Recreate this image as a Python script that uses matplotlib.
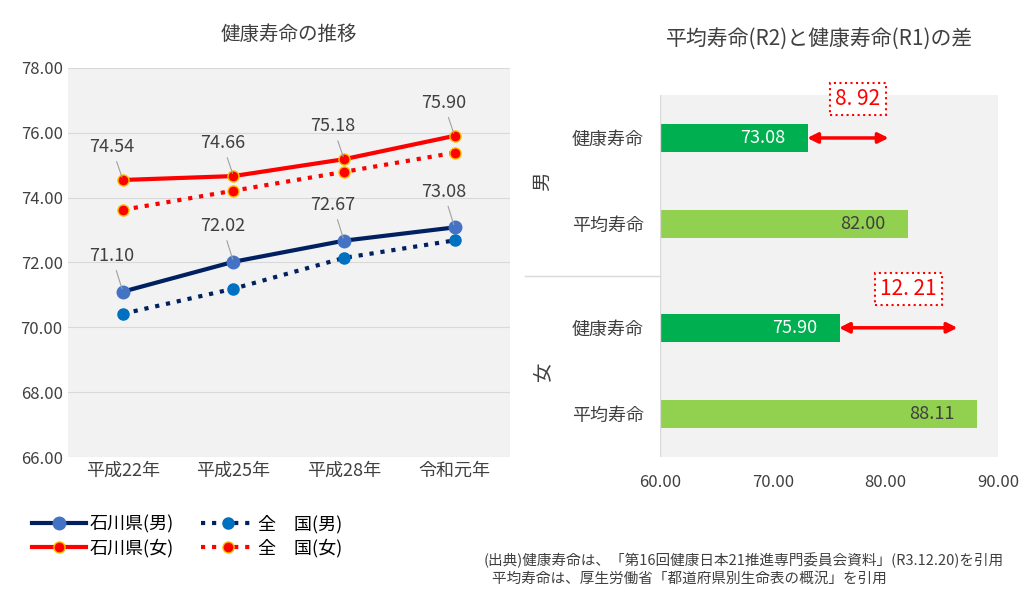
import matplotlib.pyplot as plt
import numpy as np

plt.rcParams['font.family'] = ['Noto Sans CJK JP', 'DejaVu Sans']

years = ["平成22年", "平成25年", "平成28年", "令和元年"]
ishikawa_m = [71.10, 72.02, 72.67, 73.08]
ishikawa_f = [74.54, 74.66, 75.18, 75.90]
zenkoku_m = [70.42, 71.19, 72.14, 72.68]
zenkoku_f = [73.62, 74.21, 74.79, 75.38]

bar_labels = ["健康寿命", "平均寿命", "健康寿命", "平均寿命"]
bar_values = [73.08, 82.00, 75.90, 88.11]
bar_colors = ["#00b050", "#92d050", "#00b050", "#92d050"]
gaps = [8.92, 12.21]

fig = plt.figure(figsize=(10.24, 6.04), dpi=100)

# left: line chart
ax = fig.add_axes([0.066, 0.243, 0.432, 0.645])
ax.set_facecolor("#f2f2f2")
x = np.arange(len(years))
l1, = ax.plot(x, ishikawa_m, color="#002060", lw=3, marker="o", ms=9, mfc="#4472c4", mec="#4472c4", label="石川県(男)")
l2, = ax.plot(x, zenkoku_m, color="#002060", lw=3, ls=":", marker="o", ms=8, mfc="#0070c0", mec="#0070c0", label="全　国(男)")
l3, = ax.plot(x, ishikawa_f, color="#ff0000", lw=3, marker="o", ms=8, mfc="#ff0000", mec="#ffc000", label="石川県(女)")
l4, = ax.plot(x, zenkoku_f, color="#ff0000", lw=3, ls=":", marker="o", ms=8, mfc="#ff0000", mec="#ffc000", label="全　国(女)")
for i in range(len(years)):
    ax.annotate(f"{ishikawa_m[i]:.2f}", (x[i], ishikawa_m[i]), xytext=(-8, 22), textcoords="offset points",
                ha="center", fontsize=13, color="#404040",
                arrowprops=dict(arrowstyle="-", color="#a0a0a0", lw=0.8))
    ax.annotate(f"{ishikawa_f[i]:.2f}", (x[i], ishikawa_f[i]), xytext=(-8, 20), textcoords="offset points",
                ha="center", fontsize=13, color="#404040",
                arrowprops=dict(arrowstyle="-", color="#a0a0a0", lw=0.8))
ax.set_ylim(66, 78)
ax.set_xlim(-0.5, 3.5)
ax.set_yticks(np.arange(66, 78.1, 2))
ax.set_yticklabels([f"{v:.2f}" for v in np.arange(66, 78.1, 2)], fontsize=12, color="#404040")
ax.set_xticks(x)
ax.set_xticklabels(years, fontsize=13, color="#404040")
ax.grid(axis="y", color="#d9d9d9")
ax.set_axisbelow(True)
for s in ax.spines.values():
    s.set_visible(False)
ax.tick_params(length=0)
ax.set_title("健康寿命の推移", fontsize=14, color="#404040", pad=20)
fig.legend([l1, l3, l2, l4], [l.get_label() for l in [l1, l3, l2, l4]], ncol=2, loc="lower left",
           bbox_to_anchor=(0.015, 0.05), frameon=False, fontsize=13, handlelength=3,
           columnspacing=1.5, labelspacing=0.3, handletextpad=0.2)

# right: bar chart
ax2 = fig.add_axes([0.645, 0.243, 0.33, 0.6])
ax2.set_facecolor("#f2f2f2")
y = np.array([3.2, 2.2, 1.0, 0.0])
ax2.barh(y, np.array(bar_values) - 60, left=60, height=0.33, color=bar_colors)
for yy, v, c in zip(y, bar_values, bar_colors):
    ax2.text(v - 2, yy, f"{v:.2f}", ha="right", va="center", fontsize=13,
             color="white" if c == "#00b050" else "#404040")
for yy, v, g in zip([y[0], y[2]], [bar_values[0], bar_values[2]], gaps):
    ax2.annotate("", xy=(v + g - 1.5, yy), xytext=(v - 0.3, yy),
                 arrowprops=dict(arrowstyle="<|-|>", color="#ff0000", lw=2.5, mutation_scale=15))
    ax2.text(v + g / 2, yy + 0.45, f"{g:.2f}".replace(".", ". "), ha="center", va="center",
             fontsize=15, color="#ff0000",
             bbox=dict(boxstyle="square,pad=0.25", fc="white", ec="#ff0000", ls=":", lw=1.5))
ax2.set_xlim(60, 90)
ax2.set_ylim(-0.5, 3.7)
ax2.set_xticks(np.arange(60, 90.1, 10))
ax2.set_xticklabels([f"{v:.2f}" for v in np.arange(60, 90.1, 10)], fontsize=12, color="#404040")
ax2.set_yticks(y)
ax2.set_yticklabels(bar_labels, fontsize=13, color="#404040")
ax2.tick_params(length=0, pad=12)
for s in ax2.spines.values():
    s.set_visible(False)
ax2.axvline(60, color="#d9d9d9", lw=1)
ax2.plot([-0.4, 0], [1.6, 1.6], transform=ax2.get_yaxis_transform(), color="#d9d9d9", lw=1, clip_on=False)
ax2.text(-0.35, 2.7, "男", transform=ax2.get_yaxis_transform(), rotation=90, ha="center", va="center", fontsize=14, color="#404040")
ax2.text(-0.35, 0.5, "女", transform=ax2.get_yaxis_transform(), rotation=90, ha="center", va="center", fontsize=14, color="#404040")
fig.text(0.80, 0.925, "平均寿命(R2)と健康寿命(R1)の差", ha="center", fontsize=15, color="#404040")

fig.text(0.98, 0.03, "(出典)健康寿命は、「第16回健康日本21推進専門委員会資料」(R3.12.20)を引用\n平均寿命は、厚生労働省「都道府県別生命表の概況」を引用　　　　　　　　",
         ha="right", va="bottom", fontsize=10.5, color="#404040", linespacing=1.3)

fig.savefig("out.png", dpi=100)
